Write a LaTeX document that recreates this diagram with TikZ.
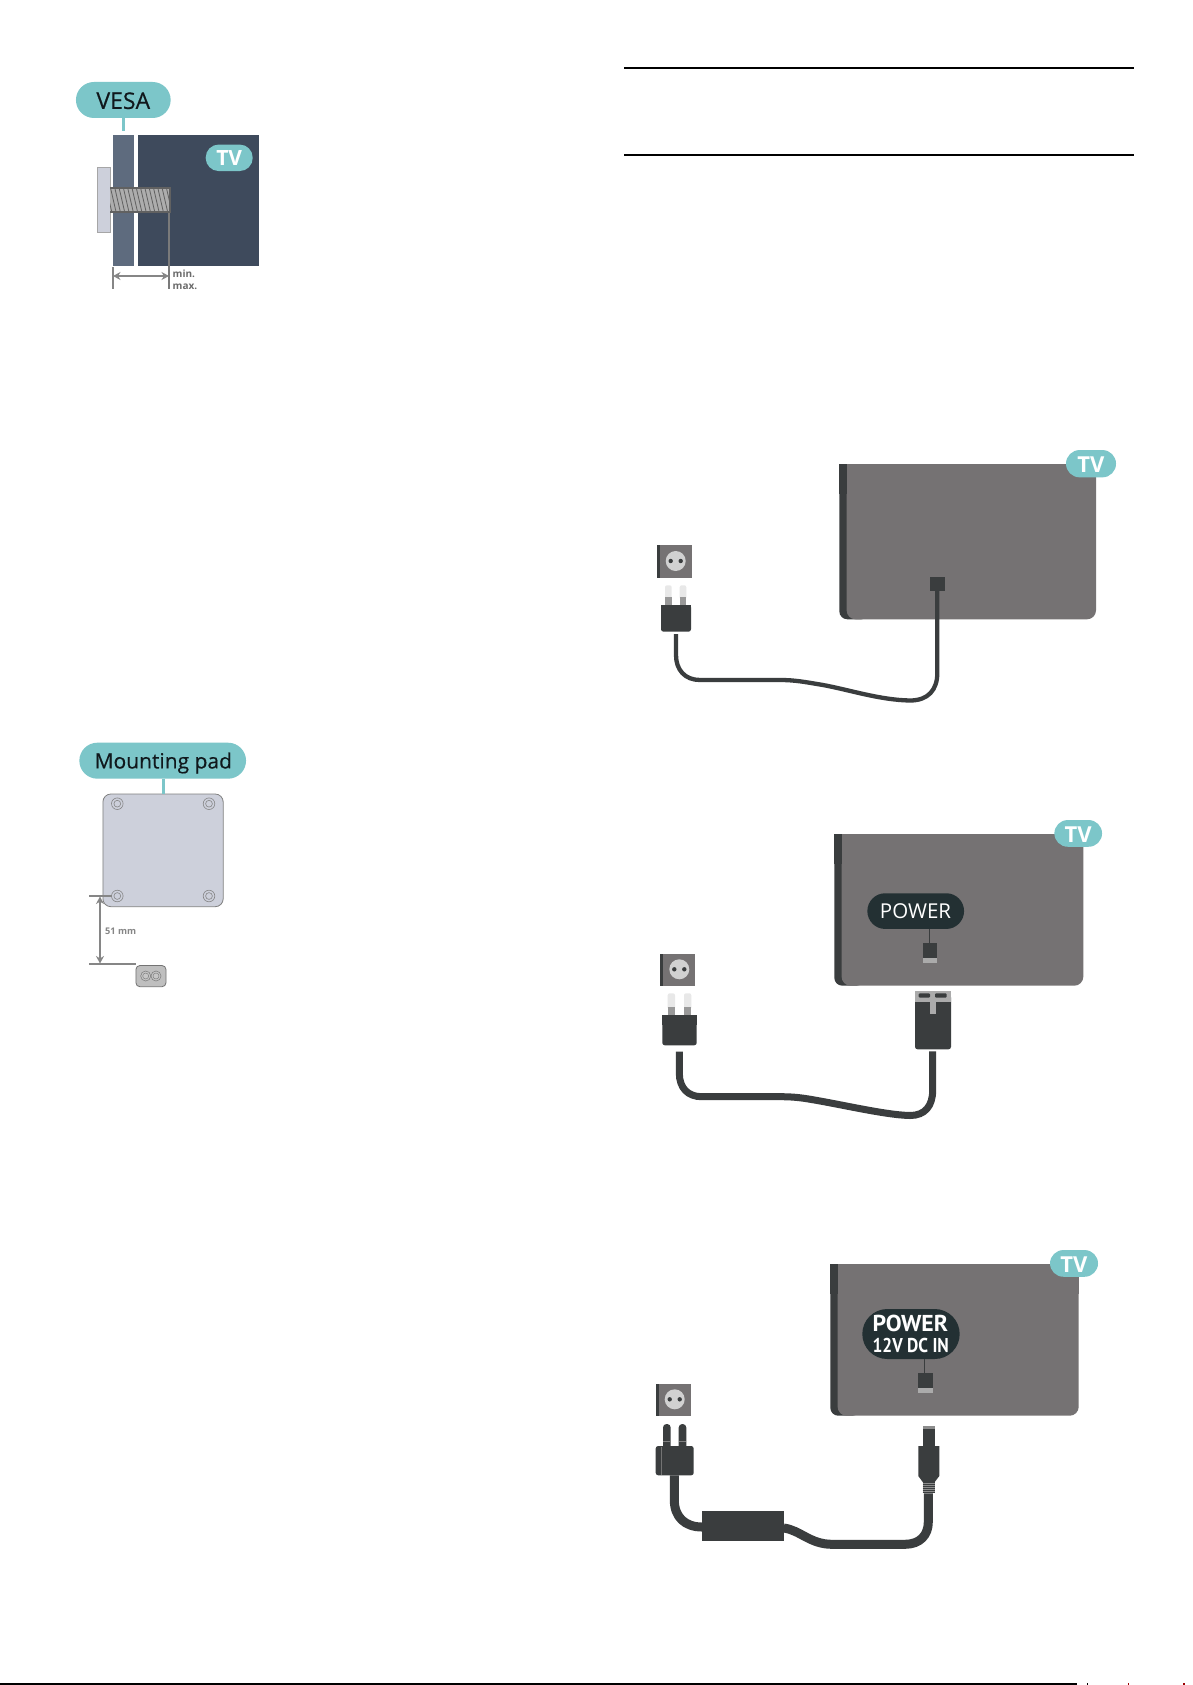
\documentclass[tikz,border=0pt]{standalone}
\usepackage{fontspec}
\usetikzlibrary{arrows.meta}
\setmainfont{Open Sans}
\newfontfamily\condfont{PT Sans}
\newfontfamily\labelfont[FakeBold=0.35]{Open Sans}
\definecolor{teal1}{HTML}{7CC6C9}
\definecolor{panelgrey}{HTML}{757273}
\definecolor{darkgrey}{HTML}{3A3D3E}
\definecolor{pilldark}{HTML}{233033}
\definecolor{labelink}{HTML}{10181C}
\definecolor{bandblue}{HTML}{5E6B7E}
\definecolor{tvblue}{HTML}{3E4A5C}
\definecolor{padgrey}{HTML}{CDD0DB}
\definecolor{dimgrey}{HTML}{868686}
\tikzset{
  pill/.style={fill=teal1,rounded corners=#1,inner sep=0pt},
  tvlabel/.style={text=white,font=\fontsize{21}{24}\selectfont\bfseries,inner sep=0pt},
  stemline/.style={teal1,line width=2.4pt},
  cablethin/.style={darkgrey,line width=4.3pt},
  cablethick/.style={darkgrey,line width=7pt},
  cablefat/.style={darkgrey,line width=9pt},
  dimline/.style={dimgrey,line width=1.5pt},
  dimarrow/.style={dimgrey,line width=1.8pt,{Stealth[length=7.5pt,width=8pt]}-{Stealth[length=7.5pt,width=8pt]}},
  dimtext/.style={text=dimgrey,font=\fontsize{10}{12}\selectfont\bfseries,inner sep=0pt},
  screwring/.style={draw=dimgrey,line width=.6pt,fill=padgrey},
}
% panel: x1,y1,x2,y2
\newcommand{\tvpanel}[4]{%
  \fill[darkgrey,rounded corners=8pt] (#1,#2) rectangle (#1+30,#4);
  \fill[panelgrey,rounded corners=9pt] (#1+7.3,#2) rectangle (#3,#4);
  \fill[panelgrey] (#1+7.3,#2) rectangle (#3,#2+30);
  \fill[darkgrey] (#1,#2) rectangle (#1+7.3,#2+30);
}
% wall socket: x1,y1,x2,y2,cx,cy
\newcommand{\wallsock}[6]{%
  \fill[panelgrey] (#1,#2) rectangle (#3,#4);
  \fill[darkgrey] (#1,#2) rectangle (#1+3.3,#4);
  \fill[black!18] (#5,#6) circle (10);
  \fill[darkgrey] (#5-5,#6) circle (2.2);
  \fill[darkgrey] (#5+5,#6) circle (2.2);
}
% light prong: x1,x2,ytop,ysplit,ybot
\newcommand{\prong}[5]{%
  \fill[black!9,rounded corners=2pt] (#1,#3) rectangle (#2,#4+3);
  \fill[black!40] (#1,#4) rectangle (#2,#5);
}
\newcommand{\portsq}[4]{%
  \fill[darkgrey] (#1,#2) rectangle (#3,#4);
  \fill[black!33] (#1,#4) rectangle (#3,#4+5);
}
\begin{document}
\begin{tikzpicture}[x=1pt,y=-1pt]
\useasboundingbox (0,0) rectangle (1192,1685);
\fill[white] (0,0) rectangle (1192,1685);

% header rules
\coordinate (ruleAl) at (624,68); \coordinate (ruleAr) at (1134,68);
\coordinate (ruleBl) at (624,155); \coordinate (ruleBr) at (1134,155);
\draw[black,line width=2.4pt] (ruleAl) -- (ruleAr);
\draw[black,line width=2.4pt] (ruleBl) -- (ruleBr);
% footer rule
\coordinate (footl) at (0,1684); \coordinate (footr) at (1077,1684);
\draw[black,line width=1.6pt] (footl) -- (footr);
\fill[black] (1087,1683.3) rectangle (1088,1685);
\fill[black!40!red] (1128,1683.3) rectangle (1129,1685);
\fill[black!40!red] (1183,1683.3) rectangle (1185,1685);

% ---------- VESA ----------
\fill[bandblue] (113.3,134.7) rectangle (134,266);
\fill[tvblue] (137.7,134.7) rectangle (259.3,266);
\node[pill=18pt,minimum width=94.7pt,minimum height=36pt] (vesa) at (123.3,100) {};
\node[inner sep=0pt,text=labelink,font=\labelfont\fontsize{23}{26}\selectfont] at (123.3,100.7) {VESA};
\coordinate (vesaband) at (123.3,130.7);
\draw[stemline] (vesa.south) -- (vesaband);
\node[pill=13pt,minimum width=47pt,minimum height=26.5pt] (vesatv) at (229.2,157.8) {};
\node[tvlabel] at (vesatv.center) {TV};
\fill[padgrey,draw=black!35,line width=.7pt] (97.6,167.6) rectangle (110,232.6);
\fill[black!32] (110,187.3) rectangle (170.7,213);
\begin{scope}
\clip (110,187.3) rectangle (170.7,213);
\foreach \k in {0,...,15}{
  \draw[black!62,line width=.8pt] (106+\k*4.3,187) -- (112+\k*4.3,213);
}
\end{scope}
\draw[black!62,line width=1.8pt] (110,188) -- (170,188) -- (170,212.4) -- (110,212.4);
\coordinate (maxtop) at (169,213); \coordinate (maxbot) at (169,288.7);
\coordinate (mintop) at (113,267.3); \coordinate (minbot) at (113,288.7);
\draw[black!52,line width=1.7pt] (maxtop) -- (maxbot);
\draw[dimline,line width=1.2pt] (mintop) -- (minbot);
\coordinate (arrl) at (113,276); \coordinate (arrr) at (169,276);
\draw[dimarrow] (arrl) -- (arrr);
\node[dimtext,text=black!58,anchor=west] (mintxt) at (172.5,274) {min.};
\node[dimtext,text=black!58,anchor=west] (maxtxt) at (172.5,286.7) {max.};

% ---------- Mounting pad ----------
\node[pill=18pt,minimum width=166.7pt,minimum height=36pt] (mount) at (162.7,760.7) {};
\node[inner sep=0pt,text=labelink,font=\labelfont\fontsize{21}{24}\selectfont] at (163.3,763) {Mounting pad};
\fill[padgrey,draw=black!50,line width=.8pt,rounded corners=8pt] (102.9,794) rectangle (223.2,906.7);
\coordinate (padtop) at (163.3,794);
\draw[teal1,line width=3pt] (mount.south -| padtop) -- (padtop);
\foreach \cx/\cy in {117.3/803.7,209/803.7,117.3/896,209/896}{
  \draw[screwring] (\cx,\cy) circle (5.8);
  \draw[screwring] (\cx,\cy) circle (3.4);
}
\coordinate (dimAl) at (89.3,896); \coordinate (dimAr) at (111.7,896);
\coordinate (dimBl) at (89.3,964); \coordinate (dimBr) at (136,964);
\draw[dimline] (dimAl) -- (dimAr);
\draw[dimline] (dimBl) -- (dimBr);
\coordinate (dimU) at (100,896.5); \coordinate (dimD) at (100,963.5);
\draw[dimarrow] (dimU) -- (dimD);
\node[dimtext,font=\fontsize{9.2}{11}\selectfont\bfseries] (mm) at (120.7,931) {51 mm};
\fill[black!25,draw=black!55,line width=.8pt,rounded corners=4pt] (135.9,965.5) rectangle (166,986.7);
\foreach \cx in {145.7,156}{
  \draw[black!50,line width=.6pt,fill=black!22] (\cx,976) circle (5);
  \draw[black!50,line width=.5pt] (\cx,976) circle (3);
}

% ---------- Power 1 ----------
\tvpanel{839.3}{464}{1096}{619.3}
\node[pill=13.6pt,minimum width=50pt,minimum height=27.3pt] (tvA) at (1091,463.7) {};
\node[tvlabel,font=\fontsize{22}{24}\selectfont\bfseries] at (1091,465) {TV};
\wallsock{656.7}{545}{692}{577.7}{675.7}{561}
\prong{665}{671.7}{585.3}{596.5}{605}
\prong{679.7}{686.3}{585.3}{596.5}{605}
\fill[darkgrey,rounded corners=2.5pt] (661,605) rectangle (691,631.7);
\fill[darkgrey] (661,605) rectangle (691,615);
\node[fill=darkgrey,minimum width=14.7pt,minimum height=14pt,inner sep=0pt] (portA) at (937.3,583.7) {};
\coordinate (plugA) at (676,634);
\draw[cablethin] (portA.south) -- (937.3,673)
  .. controls (937.3,690) and (928,700.5) .. (910,700.5)
  .. controls (880,700) and (850,690) .. (823,685)
  .. controls (805,682) and (795,680) .. (780,680) -- (700,680)
  .. controls (685,680) and (676,670) .. (676,655) -- (plugA);

% ---------- Power 2 ----------
\tvpanel{834.3}{834}{1083.3}{985.7}
\node[pill=13.4pt,minimum width=47.7pt,minimum height=26.7pt] (tvB) at (1078.2,833.4) {};
\node[tvlabel,font=\fontsize{22}{24}\selectfont\bfseries] at (1078.2,834.7) {TV};
\wallsock{660}{954}{695}{985.7}{679.3}{969.3}
\prong{667.7}{675}{993.3}{1006.7}{1015.3}
\prong{684}{691.3}{993.3}{1006.7}{1015.3}
\fill[darkgrey,rounded corners=2.5pt] (662.3,1015.3) rectangle (696.7,1045.3);
\fill[darkgrey] (662.3,1015.3) rectangle (696.7,1025);
\node[fill=pilldark,rounded corners=17.8pt,minimum width=96.7pt,minimum height=35.7pt,inner sep=0pt] (pwrB) at (915.7,911.1) {};
\node[inner sep=0pt,text=white,font=\fontsize{20.5}{24}\selectfont] at (915.5,911.5) {POWER};
\portsq{923}{943.3}{937}{958.3}
\coordinate (portB) at (929.3,943.3);
\draw[darkgrey,line width=1.5pt] (pwrB.south -| portB) -- (portB);
% big connector
\fill[darkgrey,rounded corners=2.5pt] (915,995) rectangle (951,1049.3);
\fill[black!33] (915,991) rectangle (951,1001.7);
\fill[darkgrey,rounded corners=1pt] (918.7,993.3) rectangle (930,997.7);
\fill[darkgrey,rounded corners=1pt] (935,993.3) rectangle (946.7,997.7);
\fill[black!33] (930.3,1001) rectangle (935.5,1014.3);
\coordinate (connB) at (932.7,1051.3);
\coordinate (plugB) at (679.3,1051.7);
\draw[cablethick] (connB) -- (932.7,1090)
  .. controls (932.7,1106) and (925,1115.5) .. (910,1115.5)
  .. controls (885,1115) and (840,1104) .. (806.7,1098.7)
  .. controls (797,1097.2) and (790,1096.7) .. (780,1096.7) -- (701.7,1096.7)
  .. controls (688,1096.7) and (679.3,1088) .. (679.3,1073) -- (plugB);

% ---------- Power 3 ----------
\tvpanel{830.3}{1264}{1078.7}{1415.7}
\node[pill=13.4pt,minimum width=48pt,minimum height=26.7pt] (tvC) at (1074,1263.4) {};
\node[tvlabel,font=\fontsize{22}{24}\selectfont\bfseries] at (1074,1264.7) {TV};
\wallsock{656}{1384}{691}{1415.7}{674.7}{1399.3}
% plug with dark prongs
\fill[darkgrey,rounded corners=3.5pt] (663,1424) rectangle (670.7,1450);
\fill[darkgrey,rounded corners=3.5pt] (678.7,1424) rectangle (686.3,1450);
\fill[black!50] (663,1441) rectangle (670.7,1442);
\fill[black!50] (678.7,1441) rectangle (686.3,1442);
\fill[darkgrey,rounded corners=2.5pt] (655.7,1446) rectangle (693.7,1475.3);
\draw[black!55,line width=.6pt] (661.7,1446.5) -- (661.7,1475);
\node[fill=pilldark,rounded corners=25pt,minimum width=97.4pt,minimum height=50pt,inner sep=0pt] (pwrC) at (911,1334) {};
\node[inner sep=0pt,text=white,font=\condfont\bfseries\fontsize{23}{26}\selectfont] at (910.3,1323) {\scalebox{1.03}[1]{POWER}};
\node[inner sep=0pt,text=white,font=\condfont\bfseries\fontsize{20}{22}\selectfont] at (910.7,1345.7) {\scalebox{.87}[1]{12V DC IN}};
\portsq{918.3}{1373.3}{933}{1388.3}
\coordinate (portC) at (924.3,1373.3);
\draw[darkgrey,line width=1.5pt] (pwrC.south -| portC) -- (portC);
% barrel connector
\fill[black!45] (922.7,1425.5) rectangle (934.7,1429);
\fill[darkgrey] (922.7,1428.5) rectangle (934.7,1447);
\fill[darkgrey] (918.3,1446) -- (939.3,1446) -- (939.3,1476) -- (934.7,1482) -- (922.7,1482) -- (918.3,1476) -- cycle;
\fill[black!45] (922.7,1481.7) rectangle (934.7,1493.3);
\foreach \k in {0,...,5}{
  \draw[darkgrey,line width=.7pt] (922.7,1482.6+\k*2) -- (934.7,1482.6+\k*2);
}
% adapter and cables
\node[fill=darkgrey,minimum width=81.7pt,minimum height=30.3pt,inner sep=0pt] (adapter) at (742.85,1525.85) {};
\coordinate (plugC) at (674.3,1475.3);
\coordinate (connC) at (928.3,1493.3);
\coordinate (adaptin) at (702,1527);
\coordinate (adaptout) at (783.7,1528);
\draw[cablefat] (plugC) -- (674.3,1500)
  .. controls (674.3,1517) and (685,1527) .. (adaptin);
\draw[cablefat] (adaptout) .. controls (800,1530) and (810,1544.3) .. (832,1544.3)
  -- (905,1544.3) .. controls (920,1544.3) and (928.3,1535) .. (928.3,1522) -- (connC);
\end{tikzpicture}
\end{document}
